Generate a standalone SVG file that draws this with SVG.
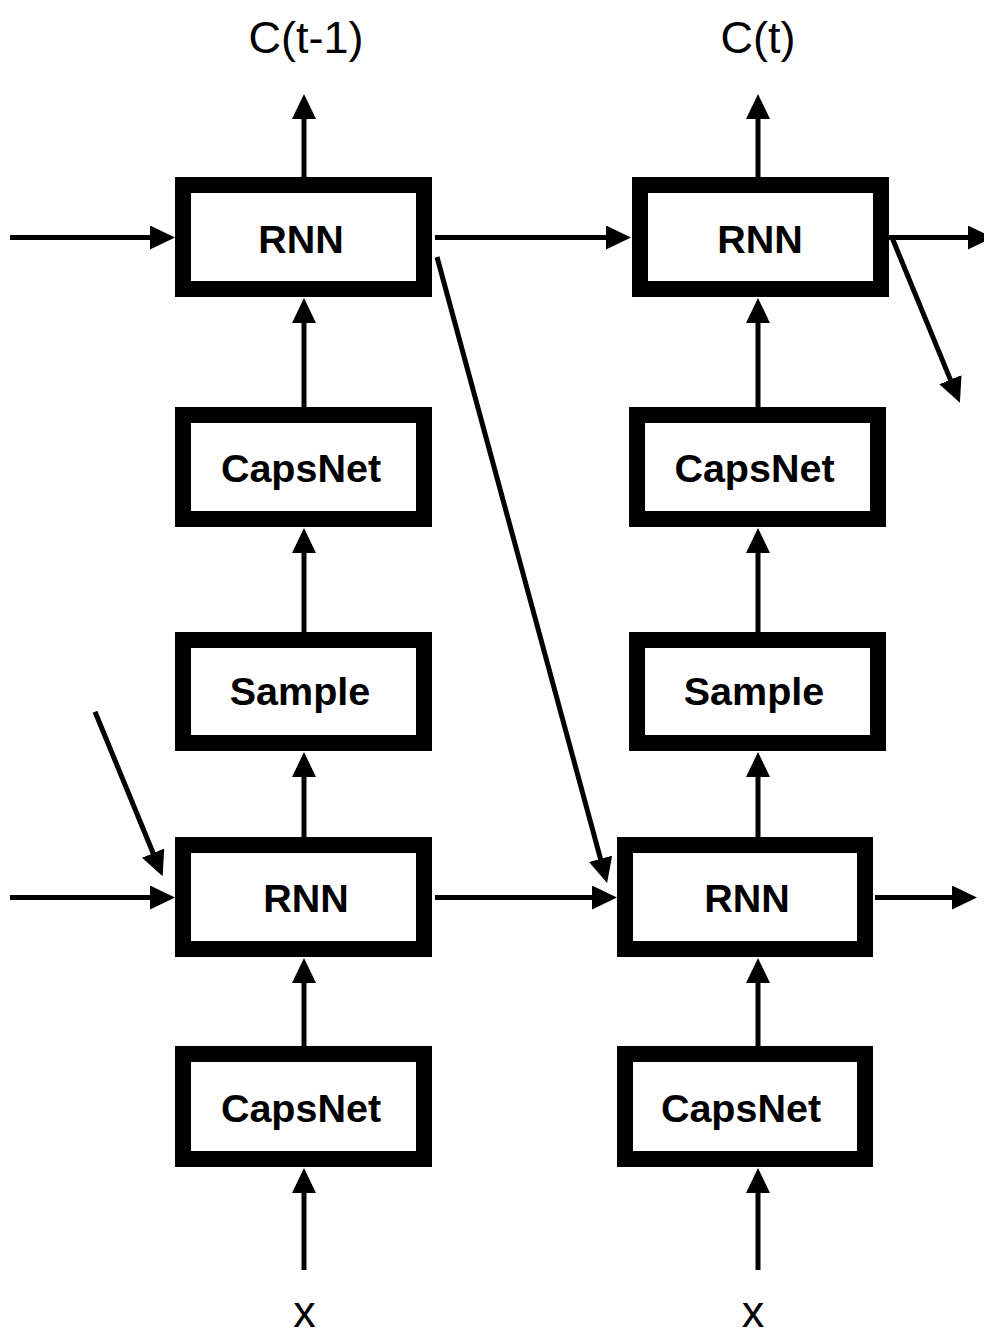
<svg xmlns="http://www.w3.org/2000/svg" width="984" height="1332" viewBox="0 0 984 1332">
  <defs>
    <marker id="arrow" markerUnits="userSpaceOnUse" markerWidth="26" markerHeight="24" refX="1" refY="12" orient="auto">
      <path d="M0,0 L25,12 L0,24 z" fill="#000"/>
    </marker>
    <style>
      .box { fill: #fff; stroke: #000; stroke-width: 16; }
      .lbl { font-family: "Liberation Sans", Arial, sans-serif; font-weight: bold; font-size: 39.5px; text-anchor: middle; fill: #000; }
      .io { font-family: "Liberation Sans", Arial, sans-serif; font-size: 45px; text-anchor: middle; fill: #000; }
      .edge { fill: none; stroke: #000; stroke-width: 5; marker-end: url(#arrow); }
    </style>
  </defs>
  <rect width="984" height="1332" fill="#fff"/>

  <!-- connectors -->
  <g id="connectors">
    <!-- left column, bottom to top -->
    <line class="edge" x1="304" y1="1270" x2="304" y2="1192"/>
    <line class="edge" x1="304" y1="1046" x2="304" y2="982"/>
    <line class="edge" x1="304" y1="837" x2="304" y2="776"/>
    <line class="edge" x1="304" y1="632" x2="304" y2="552"/>
    <line class="edge" x1="304" y1="407" x2="304" y2="322"/>
    <line class="edge" x1="304" y1="177" x2="304" y2="118"/>
    <!-- right column, bottom to top -->
    <line class="edge" x1="758" y1="1270" x2="758" y2="1192"/>
    <line class="edge" x1="758" y1="1046" x2="758" y2="982"/>
    <line class="edge" x1="758" y1="837" x2="758" y2="776"/>
    <line class="edge" x1="758" y1="632" x2="758" y2="552"/>
    <line class="edge" x1="758" y1="407" x2="758" y2="322"/>
    <line class="edge" x1="758" y1="177" x2="758" y2="118"/>
    <!-- recurrent links, upper row -->
    <line class="edge" x1="10" y1="237.5" x2="151" y2="237.5"/>
    <line class="edge" x1="435" y1="237.5" x2="607" y2="237.5"/>
    <line class="edge" x1="889" y1="237.5" x2="969" y2="237.5"/>
    <!-- recurrent links, lower row -->
    <line class="edge" x1="10" y1="897.5" x2="151" y2="897.5"/>
    <line class="edge" x1="435" y1="897.5" x2="593" y2="897.5"/>
    <line class="edge" x1="875" y1="897.5" x2="953" y2="897.5"/>
    <!-- cross links from upper RNN to next lower RNN -->
    <line class="edge" x1="437" y1="257" x2="600.8" y2="859.8"/>
    <line class="edge" x1="892" y1="237.5" x2="950.8" y2="380.6"/>
    <line class="edge" x1="95" y1="711.7" x2="153.5" y2="854"/>
  </g>

  <!-- left column -->
  <g id="rnn-top-left">
    <rect class="box" x="183" y="185" width="241" height="104"/>
    <text class="lbl" x="301" y="252.5">RNN</text>
  </g>
  <g id="capsnet-upper-left">
    <rect class="box" x="183" y="415" width="241" height="104"/>
    <text class="lbl" x="301" y="481.5">CapsNet</text>
  </g>
  <g id="sample-left">
    <rect class="box" x="183" y="640" width="241" height="103"/>
    <text class="lbl" x="300" y="705">Sample</text>
  </g>
  <g id="rnn-bottom-left">
    <rect class="box" x="183" y="845" width="241" height="104"/>
    <text class="lbl" x="306" y="911.5">RNN</text>
  </g>
  <g id="capsnet-bottom-left">
    <rect class="box" x="183" y="1054" width="241" height="105"/>
    <text class="lbl" x="301" y="1121.5">CapsNet</text>
  </g>

  <!-- right column -->
  <g id="rnn-top-right">
    <rect class="box" x="640" y="185" width="241" height="104"/>
    <text class="lbl" x="760" y="252.5">RNN</text>
  </g>
  <g id="capsnet-upper-right">
    <rect class="box" x="637" y="415" width="241" height="104"/>
    <text class="lbl" x="754.5" y="481.5">CapsNet</text>
  </g>
  <g id="sample-right">
    <rect class="box" x="637" y="640" width="241" height="103"/>
    <text class="lbl" x="754" y="705">Sample</text>
  </g>
  <g id="rnn-bottom-right">
    <rect class="box" x="625" y="845" width="240" height="104"/>
    <text class="lbl" x="747" y="911.5">RNN</text>
  </g>
  <g id="capsnet-bottom-right">
    <rect class="box" x="625" y="1054" width="240" height="105"/>
    <text class="lbl" x="741" y="1121.5">CapsNet</text>
  </g>

  <!-- outputs and inputs -->
  <g id="label-c-prev"><text class="io" x="306" y="53">C(t-1)</text></g>
  <g id="label-c-now"><text class="io" x="758" y="53">C(t)</text></g>
  <g id="label-x-left"><text class="io" x="304.5" y="1327">x</text></g>
  <g id="label-x-right"><text class="io" x="753" y="1327">x</text></g>
</svg>
